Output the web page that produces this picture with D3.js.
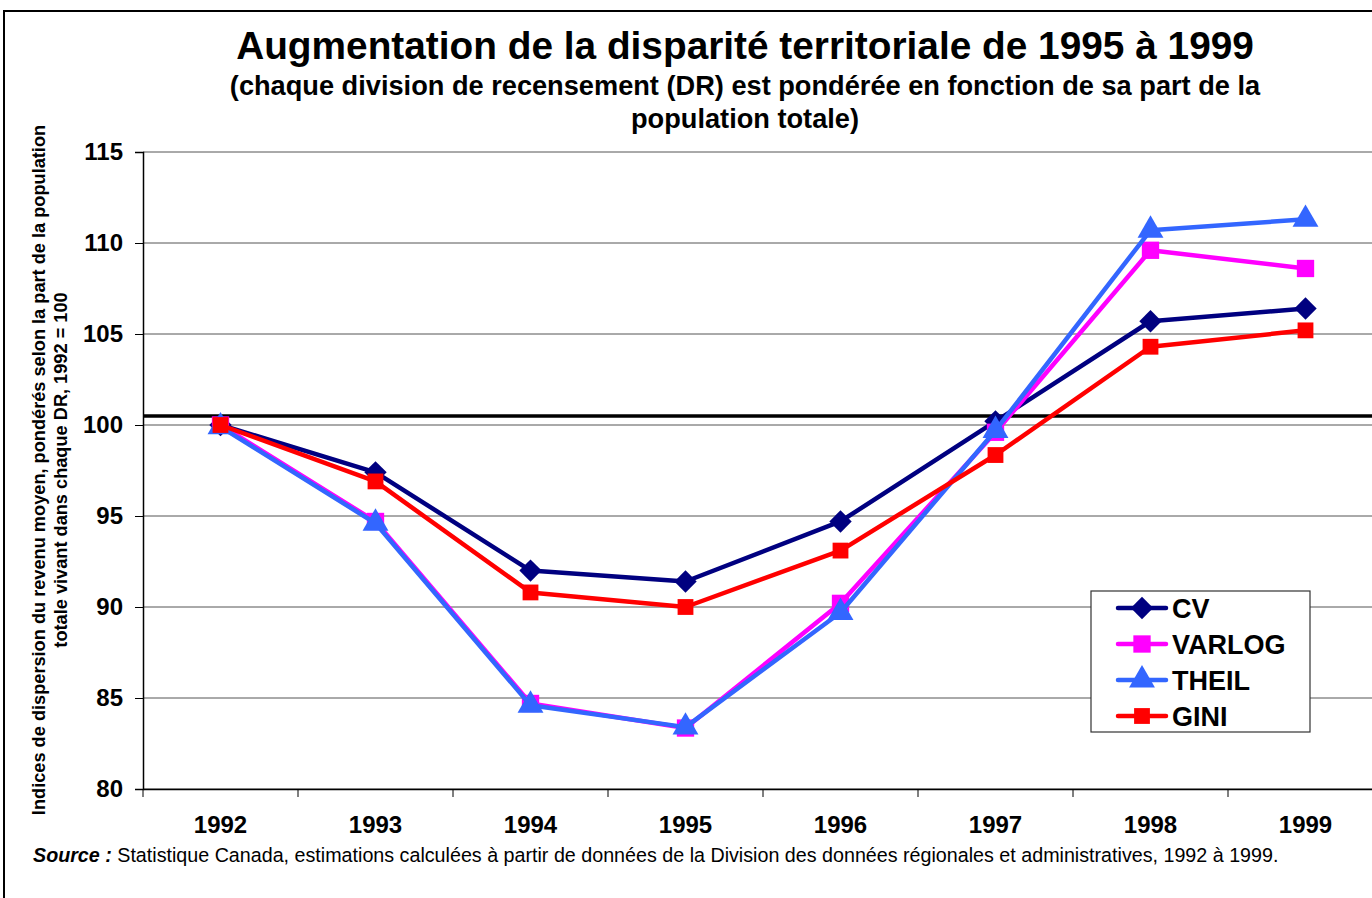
<!DOCTYPE html>
<html>
<head>
<meta charset="utf-8">
<script src="https://cdn.jsdelivr.net/npm/d3@7"></script>
<style>
  body { margin: 0; background: #fff; }
  text { font-family: "Liberation Sans", Arial, sans-serif; }
</style>
</head>
<body>
<svg id="chart" width="1372" height="898"></svg>
<script>
// data
var years = ["1992", "1993", "1994", "1995", "1996", "1997", "1998", "1999"];
var cv     = [100.0, 97.4, 92.0, 91.4, 94.7, 100.2, 105.7, 106.4];
var varlog = [100.0, 94.7, 84.7, 83.35, 90.2, 99.6, 109.6, 108.6];
var theil  = [99.9, 94.6, 84.6, 83.4, 89.7, 99.7, 110.7, 111.3];
var gini   = [100.0, 96.9, 90.8, 90.0, 93.1, 98.35, 104.3, 105.2];
var yTicks = [80, 85, 90, 95, 100, 105, 110, 115];
var refLine = 100.5;

var series = [
	{name: "CV", values: cv, color: "#000080", symbol: d3.symbolSquare, size: 250, rot: 45},
	{name: "VARLOG", values: varlog, color: "#ff00ff", symbol: d3.symbolSquare, size: 300, rot: 0},
	{name: "THEIL", values: theil, color: "#3366ff", symbol: d3.symbolTriangle, size: 290, rot: 0},
	{name: "GINI", values: gini, color: "#ff0000", symbol: d3.symbolSquare, size: 250, rot: 0}
];

var svg = d3.select("#chart");
var plotL = 143, plotR = 1383, plotT = 152, plotB = 789;

// outer frame
svg.append("rect")
	.attr("x", 4).attr("y", 11)
	.attr("width", 1400).attr("height", 900)
	.attr("fill", "none").attr("stroke", "#000").attr("stroke-width", 2);

var x = d3.scaleBand().domain(years).range([plotL, plotR]);
var y = d3.scaleLinear().domain([80, 115]).range([plotB, plotT]);

// gridlines
svg.append("g").selectAll("line")
	.data(yTicks)
	.join("line")
	.attr("x1", plotL).attr("x2", plotR)
	.attr("y1", function(d) { return y(d); })
	.attr("y2", function(d) { return y(d); })
	.attr("stroke", "#555").attr("stroke-width", 1);

// y axis
var yAxis = svg.append("g")
	.attr("transform", "translate(" + plotL + ",0)")
	.call(d3.axisLeft(y).tickValues(yTicks).tickSize(8).tickPadding(12));
yAxis.select(".domain").attr("stroke", "#000").attr("stroke-width", 1.5);
yAxis.selectAll("text")
	.attr("font-size", 24).attr("font-weight", "bold").attr("fill", "#000")
	.style("font-family", "'Liberation Sans', Arial, sans-serif");

// x axis
var xAxis = svg.append("g")
	.attr("transform", "translate(0," + plotB + ")")
	.call(d3.axisBottom(x).tickSize(0).tickPadding(27));
xAxis.select(".domain").attr("stroke", "#000").attr("stroke-width", 1.5);
xAxis.selectAll("text")
	.attr("font-size", 24).attr("font-weight", "bold").attr("fill", "#000")
	.style("font-family", "'Liberation Sans', Arial, sans-serif");
// tick marks at band boundaries
xAxis.selectAll(".bound")
	.data(years.concat(["end"]))
	.join("line")
	.attr("class", "bound")
	.attr("x1", function(d, i) { return plotL + i * x.bandwidth(); })
	.attr("x2", function(d, i) { return plotL + i * x.bandwidth(); })
	.attr("y1", 0).attr("y2", 8)
	.attr("stroke", "#000");

// reference line
svg.append("line")
	.attr("x1", plotL).attr("x2", plotR)
	.attr("y1", y(refLine)).attr("y2", y(refLine))
	.attr("stroke", "#000").attr("stroke-width", 3.5);

var cx = function(i) { return x(years[i]) + x.bandwidth() / 2; };
var line = d3.line()
	.x(function(d, i) { return cx(i); })
	.y(function(d) { return y(d); });

for (var s of series) {
	var g = svg.append("g");
	g.append("path")
		.datum(s.values)
		.attr("fill", "none")
		.attr("stroke", s.color)
		.attr("stroke-width", 4.5)
		.attr("stroke-linejoin", "round")
		.attr("d", line);
	g.selectAll("path.pt")
		.data(s.values)
		.join("path")
		.attr("class", "pt")
		.attr("transform", function(d, i) { return "translate(" + cx(i) + "," + y(d) + ") rotate(" + s.rot + ")"; })
		.attr("d", d3.symbol().type(s.symbol).size(s.size))
		.attr("fill", s.color);
}

// titles
svg.append("text")
	.attr("x", 745).attr("y", 59)
	.attr("text-anchor", "middle")
	.attr("font-size", 38.8).attr("font-weight", "bold")
	.text("Augmentation de la disparité territoriale de 1995 à 1999");
svg.append("text")
	.attr("x", 745).attr("y", 95)
	.attr("text-anchor", "middle")
	.attr("font-size", 27.2).attr("font-weight", "bold")
	.text("(chaque division de recensement (DR) est pondérée en fonction de sa part de la");
svg.append("text")
	.attr("x", 745).attr("y", 128)
	.attr("text-anchor", "middle")
	.attr("font-size", 27.2).attr("font-weight", "bold")
	.text("population totale)");

// y label
var yl = svg.append("text")
	.attr("transform", "translate(45,470) rotate(-90)")
	.attr("text-anchor", "middle")
	.attr("font-size", 18.2).attr("font-weight", "bold");
yl.append("tspan").attr("x", 0).attr("dy", 0)
	.text("Indices de dispersion du revenu moyen, pondérés selon la part de la population");
yl.append("tspan").attr("x", 0).attr("dy", 22)
	.text("totale vivant dans chaque DR, 1992 = 100");

// source
var src = svg.append("text")
	.attr("x", 33).attr("y", 862)
	.attr("font-size", 19.7);
src.append("tspan").attr("font-weight", "bold").attr("font-style", "italic").text("Source :");
src.append("tspan").text(" Statistique Canada, estimations calculées à partir de données de la Division des données régionales et administratives, 1992 à 1999.");

// legend
var lg = svg.append("g").attr("transform", "translate(1091,591)");
lg.append("rect")
	.attr("width", 219).attr("height", 141)
	.attr("fill", "#fff").attr("stroke", "#333").attr("stroke-width", 1.2);
series.forEach(function(s, i) {
	var ly = 17 + i * 36;
	lg.append("line")
		.attr("x1", 27).attr("x2", 75)
		.attr("y1", ly).attr("y2", ly)
		.attr("stroke", s.color).attr("stroke-width", 4.5)
		.attr("stroke-linecap", "round");
	lg.append("path")
		.attr("transform", "translate(51," + ly + ") rotate(" + s.rot + ")")
		.attr("d", d3.symbol().type(s.symbol).size(s.size))
		.attr("fill", s.color);
	lg.append("text")
		.attr("x", 81).attr("y", ly + 10)
		.attr("font-size", 27).attr("font-weight", "bold")
		.text(s.name);
});
</script>
</body>
</html>
